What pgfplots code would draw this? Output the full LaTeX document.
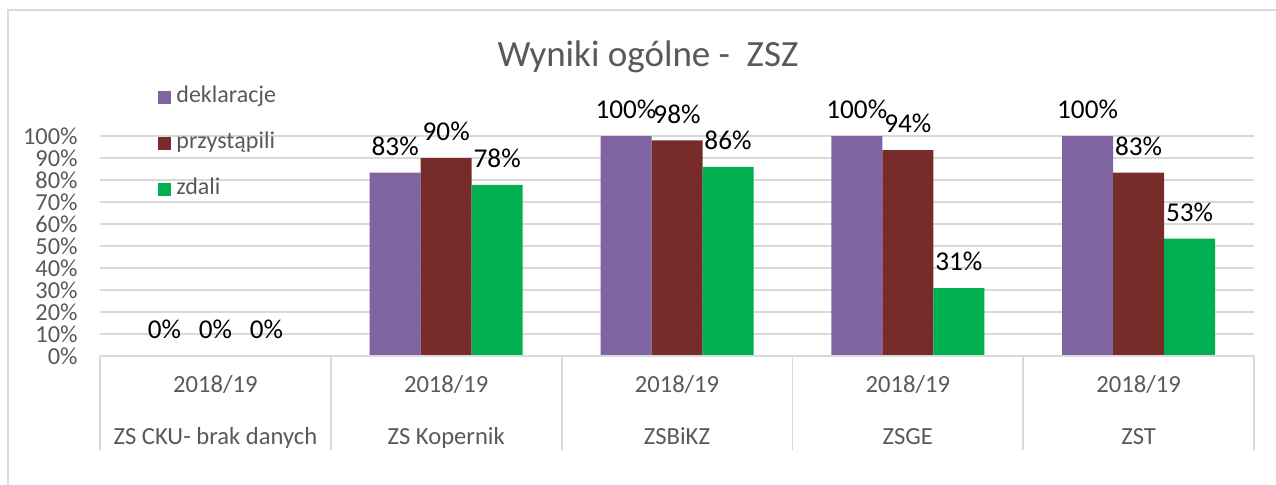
\documentclass[border=0pt]{standalone}
\usepackage{fontspec}
\setmainfont{Carlito}
\usepackage{pgfplots}
\pgfplotsset{compat=1.18}
\definecolor{cdekl}{HTML}{8064A2}
\definecolor{cprzy}{HTML}{772C2A}
\definecolor{czda}{HTML}{00B050}
\definecolor{txtgray}{HTML}{595959}
\definecolor{gridgray}{HTML}{D9D9D9}

\begin{document}
\begin{tikzpicture}
\useasboundingbox (0pt,0pt) rectangle (638pt,242pt);
\draw[gridgray, line width=1pt] (4pt,237pt) rectangle (700pt,-20pt);
\node[text=txtgray, font=\fontsize{18.5}{22}\selectfont] at (324pt,213.5pt) {Wyniki ogólne -\ \ ZSZ};
\begin{axis}[
  at={(50pt,64pt)}, anchor=south west,
  scale only axis, width=577pt, height=110pt,
  ybar=0pt, bar width=25.5pt,
  xmin=-0.5, xmax=4.5, ymin=0, ymax=100,
  clip=false,
  axis line style={draw=none},
  ymajorgrids, grid style={gridgray, line width=0.9pt},
  ytick={0,10,...,100},
  yticklabels={0\%,10\%,20\%,30\%,40\%,50\%,60\%,70\%,80\%,90\%,100\%},
  ytick style={draw=none},
  yticklabel style={text=txtgray, font=\fontsize{12.2}{14}\selectfont, inner sep=0pt, xshift=-11pt},
  xtick={0,1,2,3,4},
  xticklabels={{2018/19\\[11.5pt]ZS CKU- brak danych},{2018/19\\[11.5pt]ZS Kopernik},{2018/19\\[11.5pt]ZSBiKZ},{2018/19\\[11.5pt]ZSGE},{2018/19\\[11.5pt]ZST}},
  xticklabel style={text=txtgray, font=\fontsize{12.3}{14.6}\selectfont, align=center, anchor=north, inner sep=0pt, yshift=-5pt},
  xtick style={draw=none},
  xtick pos=bottom, ytick pos=left,
  /pgf/number format/assume math mode=true,
  nodes near coords={\pgfmathprintnumber[fixed,precision=0]{\pgfplotspointmeta}\%},
  every node near coord/.append style={text=black, font=\fontsize{13.6}{16}\selectfont, inner sep=0pt, yshift=8.3pt},
  legend image code/.code={\fill[#1] (0pt,-3.25pt) rectangle (6.5pt,3.25pt);},
  legend style={draw=none, fill=none, at={(0.0503,1.227)}, anchor=north west, inner sep=0pt,
    row sep=12pt, font=\fontsize{12}{14.4}\selectfont, text=txtgray,
    nodes={inner xsep=2.5pt, inner ysep=0pt, text height=8pt, text depth=3pt}},
  legend cell align=left,
]
\addplot[draw=none, fill=cdekl] coordinates {(0,0) (1,83.3) (2,100) (3,100) (4,100)};
\addplot[draw=none, fill=cprzy] coordinates {(0,0) (1,90) (2,98) (3,93.6) (4,83.3)};
\addplot[draw=none, fill=czda] coordinates {(0,0) (1,77.8) (2,86) (3,30.9) (4,53.3)};
\legend{deklaracje, przystąpili, zdali}
% category separators below the axis
\pgfplotsinvokeforeach{-0.5,0.5,1.5,2.5,3.5,4.5}{
  \draw[gridgray, line width=0.9pt] (axis cs:#1,0) -- ++(0pt,-47pt);
}
\draw[gridgray, line width=0.9pt] (axis cs:-0.5,0) -- (axis cs:4.5,0);
\end{axis}
\end{tikzpicture}
\end{document}
